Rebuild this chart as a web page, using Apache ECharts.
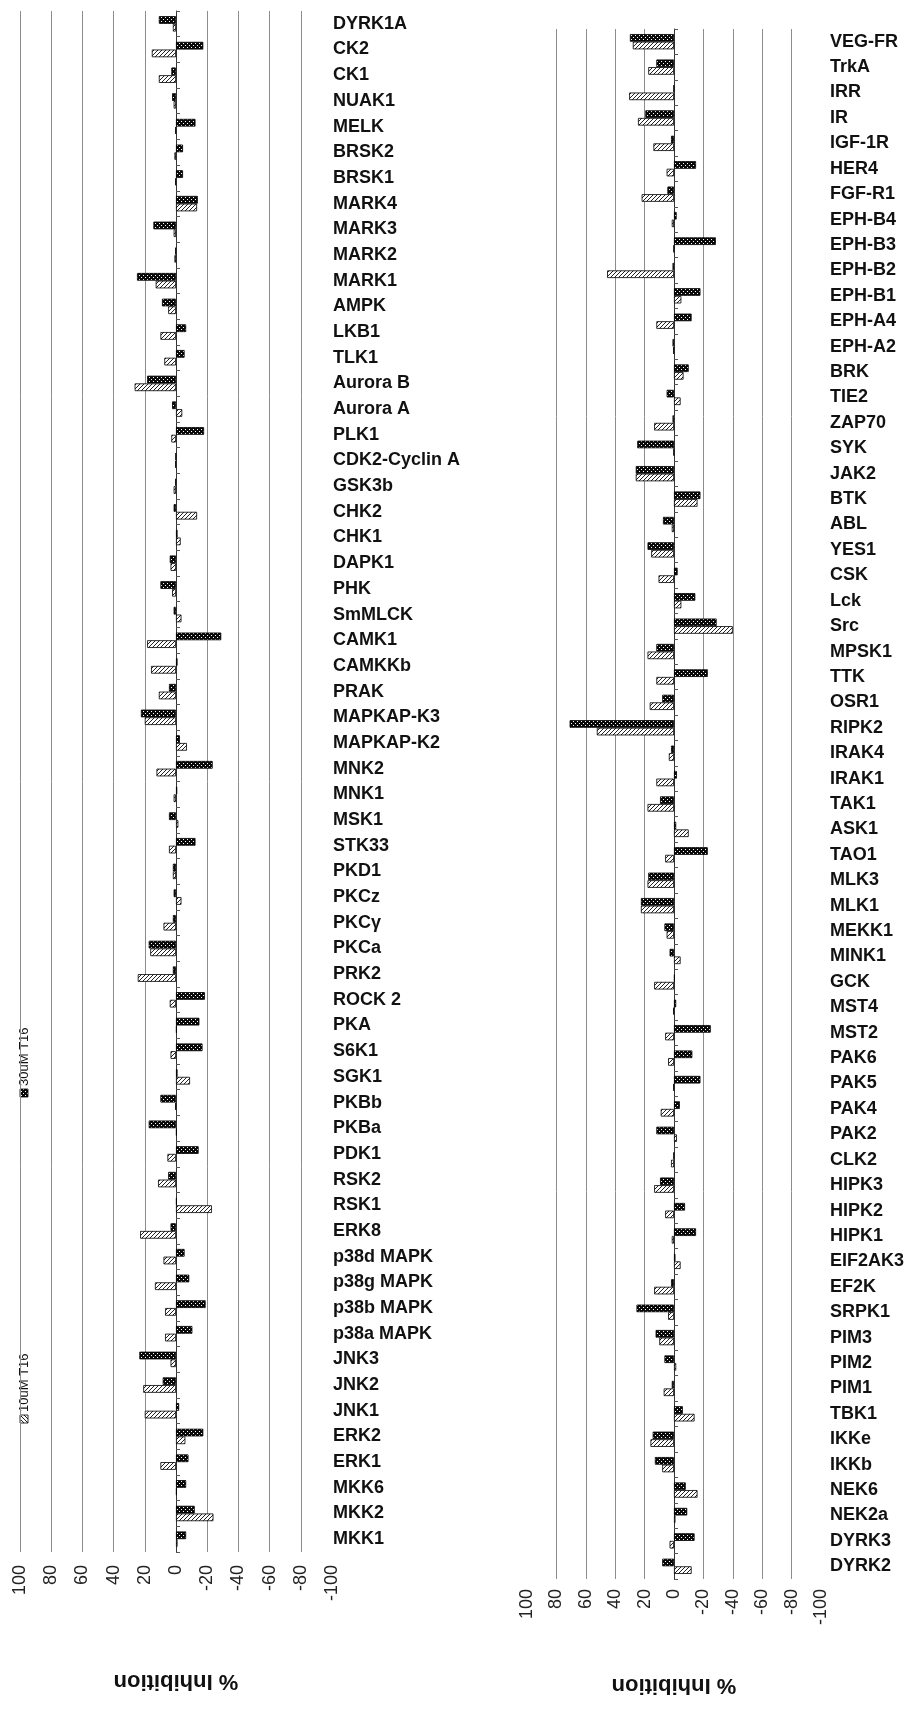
<!DOCTYPE html>
<html><head><meta charset="utf-8">
<script src="https://cdn.jsdelivr.net/npm/echarts@6/dist/echarts.min.js"></script>
<style>html,body{margin:0;padding:0;background:#fff;}#c{width:907px;height:1709px;}</style>
</head><body><div id="c"></div>
<script>
// ---------- DATA ----------
const seriesNames = ['30uM T16', '10uM T16'];
const axisTitle = '% Inhibition';
const axisMin = -100, axisMax = 100, axisStep = 20;

const leftCategories = ['DYRK1A','CK2','CK1','NUAK1','MELK','BRSK2','BRSK1','MARK4','MARK3','MARK2',
 'MARK1','AMPK','LKB1','TLK1','Aurora B','Aurora A','PLK1','CDK2-Cyclin A','GSK3b','CHK2',
 'CHK1','DAPK1','PHK','SmMLCK','CAMK1','CAMKKb','PRAK','MAPKAP-K3','MAPKAP-K2','MNK2',
 'MNK1','MSK1','STK33','PKD1','PKCz','PKCγ','PKCa','PRK2','ROCK 2','PKA',
 'S6K1','SGK1','PKBb','PKBa','PDK1','RSK2','RSK1','ERK8','p38d MAPK','p38g MAPK',
 'p38b MAPK','p38a MAPK','JNK3','JNK2','JNK1','ERK2','ERK1','MKK6','MKK2','MKK1'];
const left30uM = [11,-17.5,3,2.5,-12.5,-4.5,-4.5,-14,14.5,0.5,
 25,9,-6.5,-5.5,18.5,2.5,-18,0.3,0.5,1.5,
 -1,4,10,1.5,-29,-1,4.5,22.5,-2.5,-23.5,
 -0.8,4.5,-12.5,2,1.5,2,17.5,2,-18.5,-15,
 -17,-1,10,17.5,-14.5,5,-0.5,3.5,-5.5,-8.5,
 -19,-10.5,23.5,8.5,-2,-17.5,-8,-6.5,-12,-6.5];
const left10uM = [2,15.5,11,1.5,0.5,1,0.5,-13.5,1.5,1,
 13,5,10,7.5,26.5,-4,3,0.5,1.5,-13.5,
 -3,3.5,2.5,-3.5,18.5,16,11,20,-7,12.5,
 1.5,-1.5,4.5,2,-3.5,8,16.5,24.5,4,-0.5,
 3.5,-9,0.5,-0.5,5.5,11.5,-23,23,8,13.5,
 7,7,3.5,21,20,-6,10,-0.5,-24,-1];

const rightCategories = ['VEG-FR','TrkA','IRR','IR','IGF-1R','HER4','FGF-R1','EPH-B4','EPH-B3','EPH-B2',
 'EPH-B1','EPH-A4','EPH-A2','BRK','TIE2','ZAP70','SYK','JAK2','BTK','ABL',
 'YES1','CSK','Lck','Src','MPSK1','TTK','OSR1','RIPK2','IRAK4','IRAK1',
 'TAK1','ASK1','TAO1','MLK3','MLK1','MEKK1','MINK1','GCK','MST4','MST2',
 'PAK6','PAK5','PAK4','PAK2','CLK2','HIPK3','HIPK2','HIPK1','EIF2AK3','EF2K',
 'SRPK1','PIM3','PIM2','PIM1','TBK1','IKKe','IKKb','NEK6','NEK2a','DYRK3','DYRK2'];
const right30uM = [30,12,0.3,19.5,2,-15,4.5,-1.8,-28.5,1,
 -18,-12,1,-10,5,1,25,26,-18,7.5,
 18,-2.5,-14.5,-29,12,-23,8,71,2,-2,
 9.5,-1.5,-23,17.5,22.5,6.5,3,-0.5,-1.5,-25,
 -12.5,-18,-4,12,0.3,9.5,-7.5,-15,-1,2,
 25.5,12.5,6.5,1.5,-6,14.5,13,-8,-9,-14,8];
const right10uM = [28,17.5,30.5,24.5,14,5,22,1.5,0.3,45.5,
 -5,12,0.5,-6.5,-4.5,13.5,0.3,26,-16,1.5,
 15.5,10.5,-5,-40,18,12,16.5,52.5,3.5,12,
 18,-10,6,18,22.5,5,-4.5,13.5,0.5,6,
 4,0.5,9,-2,2,13.5,6,1.5,-4.5,13.5,
 4,10,-1.5,7,-14,16,8,-16,-1,3,-12];

// ---------- STYLE ----------
function makePattern(kind) {
  const c = document.createElement('canvas'); c.width = 4; c.height = 4;
  const g = c.getContext('2d');
  if (kind === 'dark') {
    g.fillStyle = '#0a0a0a'; g.fillRect(0, 0, 4, 4);
    g.fillStyle = '#fff';
    g.fillRect(1, 1, 1, 1); g.fillRect(3, 3, 1, 1);
  } else {
    g.fillStyle = '#fff'; g.fillRect(0, 0, 4, 4);
    g.fillStyle = '#222';
    for (let i = 0; i < 4; i++) g.fillRect(3 - i, i, 1, 1);
  }
  return { image: c, repeat: 'repeat' };
}
const darkFill = makePattern('dark');
const lightFill = makePattern('light');
const catFont = "'Liberation Sans', Arial, sans-serif";
const numFont = "'Liberation Sans', Arial, sans-serif";

const panels = [
  { cats: leftCategories, a: left30uM, b: left10uM, grid: { left: 20, top: 11, width: 312, height: 1541 }, showMax: true, nameGap: 118, labelMargin: 1, tickMargin: 13 },
  { cats: rightCategories, a: right30uM, b: right10uM, grid: { left: 527, top: 29, width: 305, height: 1550 }, showMax: false, nameGap: 95, labelMargin: 9, tickMargin: 10 }
];

const option = { animation: false, backgroundColor: '#fff', grid: [], xAxis: [], yAxis: [], series: [] };
panels.forEach((p, i) => {
  option.grid.push(Object.assign({ containLabel: false }, p.grid));
  option.xAxis.push({
    type: 'value', gridIndex: i, min: axisMin, max: axisMax, interval: axisStep, inverse: true,
    position: 'bottom',
    axisLine: { show: false }, axisTick: { show: false },
    axisLabel: { rotate: 90, fontSize: 18, fontFamily: numFont, color: '#222', margin: p.tickMargin },
    splitLine: { show: true, showMinLine: false, showMaxLine: p.showMax, lineStyle: { color: '#8c8c8c', width: 1 } },
    name: axisTitle, nameLocation: 'middle', nameRotate: 180, nameGap: p.nameGap,
    nameTextStyle: { fontSize: 22, fontWeight: 'bold', fontFamily: numFont, color: '#111' }
  });
  // category labels axis
  option.yAxis.push({
    type: 'category', gridIndex: i, data: p.cats, inverse: true, position: 'right',
    axisLine: { show: false, onZero: false }, axisTick: { show: false },
    axisLabel: { margin: p.labelMargin, fontSize: 18, fontWeight: 'bold', fontFamily: catFont, color: '#111', interval: 0 },
    splitLine: { show: false }
  });
  // zero line axis
  option.yAxis.push({
    type: 'category', gridIndex: i, data: p.cats, inverse: true, position: 'right',
    axisLine: { show: true, onZero: true, lineStyle: { color: '#333', width: 1 } },
    axisTick: { show: true, length: 4, lineStyle: { color: '#555' } },
    axisLabel: { show: false }, splitLine: { show: false }
  });
  const yIdx = i * 2;
  option.series.push({
    type: 'bar', name: seriesNames[0], xAxisIndex: i, yAxisIndex: yIdx, data: p.a,
    barGap: '0%', barCategoryGap: '40%',
    itemStyle: { color: darkFill, borderColor: '#000', borderWidth: 0.8 }
  });
  option.series.push({
    type: 'bar', name: seriesNames[1], xAxisIndex: i, yAxisIndex: yIdx, data: p.b,
    barGap: '0%', barCategoryGap: '40%',
    itemStyle: { color: lightFill, borderColor: '#000', borderWidth: 0.8 }
  });
});

function legendItem(name, fill, x, y) {
  return {
    type: 'group', x: x, y: y, rotation: Math.PI / 2,
    children: [
      { type: 'rect', shape: { x: -4, y: -4, width: 8, height: 8 }, style: { fill: fill, stroke: '#000', lineWidth: 0.8 } },
      { type: 'text', x: 7, y: 0, style: { text: name, fontSize: 13, fontFamily: numFont, fill: '#111', align: 'left', verticalAlign: 'middle' } }
    ]
  };
}
option.graphic = [
  legendItem(seriesNames[0], darkFill, 24, 1093),
  legendItem(seriesNames[1], lightFill, 24, 1419)
];

const chart = echarts.init(document.getElementById('c'), null, { renderer: 'canvas' });
chart.setOption(option);
</script></body></html>
